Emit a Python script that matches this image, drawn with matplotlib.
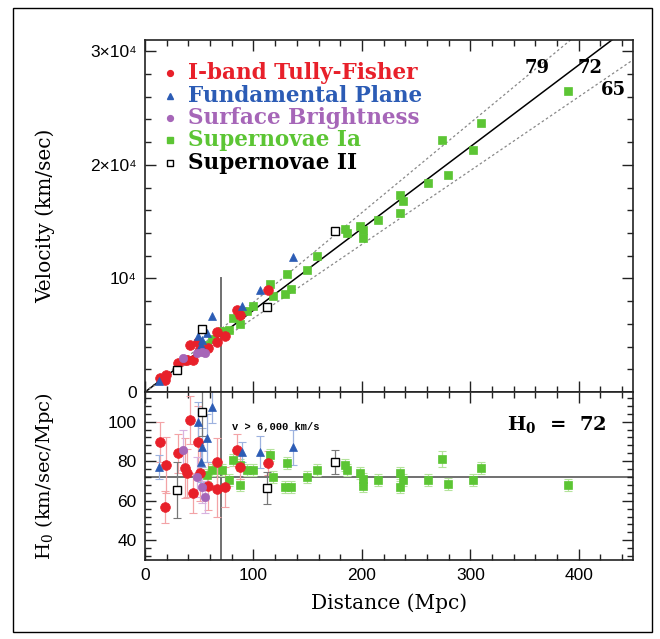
import matplotlib
matplotlib.use("Agg")
import matplotlib.pyplot as plt
from matplotlib.ticker import MultipleLocator, FixedLocator
from matplotlib.patches import Rectangle

# ---------------------------------------------------------------- DATA
# I-band Tully-Fisher
tf_dist = [13.8, 19.4, 18.4, 30.4, 36.9, 38.7, 41.5, 44.0, 49.0, 50.7, 58.0, 66.4, 66.4, 73.8, 84.8, 87.6, 113.4]
tf_vel = [1240, 1510, 1050, 2550, 2820, 2860, 4180, 2810, 4400, 3750, 3910, 5290, 4380, 4950, 7260, 6750, 8960]
tf_h0 = [89.7, 78.0, 56.8, 84.0, 76.5, 74.0, 100.8, 63.9, 89.7, 74.0, 67.4, 79.6, 65.9, 67.0, 85.6, 77.0, 79.0]
tf_err = [10, 14, 8, 10, 15, 12, 12, 10, 18, 14, 12, 12, 14, 10, 8, 6, 6]

# Fundamental Plane
fp_dist = [13.0, 49.0, 62.0, 57.0, 52.5, 51.6, 89.4, 106.0, 136.5]
fp_vel = [1000, 4900, 6660, 5230, 4570, 4110, 7560, 8970, 11880]
fp_h0 = [77.0, 100.0, 107.4, 91.7, 87.0, 79.6, 84.6, 84.6, 87.0]
fp_err = [6, 10, 8, 12, 10, 10, 5, 8, 9]

# Surface Brightness
sb_dist = [35.0, 52.5, 55.0, 48.0]
sb_vel = [3000, 3520, 3410, 3460]
sb_h0 = [85.6, 67.0, 62.0, 72.0]
sb_err = [10, 8, 8, 10]

# Supernovae Ia
sn1_dist = [57, 62, 71, 77, 81, 88, 88, 94, 100, 115, 118, 131, 129, 135, 149, 159,
            184, 186, 198, 201, 201, 215, 235, 238, 235, 261, 274, 279, 302, 310, 390]
sn1_vel = [4160, 4680, 5360, 5430, 6530, 6860, 5980, 7100, 7550, 9550, 8500, 10350, 8640, 9050, 10730, 12000,
           14350, 14040, 14650, 13550, 14270, 15160, 17390, 16780, 15750, 18400, 22220, 19080, 21290, 23720, 26480]
sn1_h0 = [73.0, 75.5, 75.5, 70.5, 80.6, 78.0, 68.0, 75.5, 75.5, 83.0, 72.0, 79.0, 67.0, 67.0, 72.0, 75.5,
          78.0, 75.5, 74.0, 67.4, 71.0, 70.5, 74.0, 70.5, 67.0, 70.5, 81.1, 68.4, 70.5, 76.5, 67.9]
sn1_err = [3, 3, 3, 3, 3, 3, 3, 3, 3, 3, 3, 3, 3, 3, 3, 3,
           3, 3, 3, 3, 3, 3, 3, 3, 3, 3, 4, 3, 3, 3, 3]

# Supernovae II
sn2_dist = [29.5, 52.5, 112.5, 175.0]
sn2_vel = [1940, 5510, 7470, 14180]
sn2_h0 = [65.4, 105.0, 66.4, 79.6]
sn2_err = [14, 12, 8, 6]

h0_values = [79, 72, 65]
h0_best = 72
cut_dist = 70

# ---------------------------------------------------------------- STYLE
mono = "Liberation Mono"
serif = "DejaVu Serif"
tick_font = ["Liberation Sans", "DejaVu Sans"]
plt.rcParams["mathtext.fontset"] = "dejavuserif"

series = [
    # dist, vel, h0, err, marker, color, errcolor, size, filled, label
    (sn1_dist, sn1_vel, sn1_h0, sn1_err, "s", "#5cc534", "#b5e39c", 5.2, True, "Supernovae Ia"),
    (tf_dist, tf_vel, tf_h0, tf_err, "o", "#e8202a", "#f3a3a6", 7.0, True, "I-band Tully-Fisher"),
    (fp_dist, fp_vel, fp_h0, fp_err, "^", "#2c5cb5", "#9db2df", 6.0, True, "Fundamental Plane"),
    (sb_dist, sb_vel, sb_h0, sb_err, "o", "#a666b8", "#d8b3e0", 6.0, True, "Surface Brightness"),
    (sn2_dist, sn2_vel, sn2_h0, sn2_err, "s", "black", "#777777", 5.8, False, "Supernovae II"),
]

fig = plt.figure(figsize=(6.6, 6.39), dpi=100)
ax_v = fig.add_axes([0.2197, 0.3865, 0.7394, 0.5509])
ax_h = fig.add_axes([0.2197, 0.1236, 0.7394, 0.2629])

# outer frame
fig.patches.append(Rectangle((13 / 660, 1 - 632 / 639), 639 / 660, 624 / 639,
                             transform=fig.transFigure, fill=False, ec="black", lw=1.0))

# ---------------------------------------------------------------- TOP PANEL
xs = [0, 450]
for h in h0_values:
    if h == h0_best:
        ax_v.plot(xs, [h * x for x in xs], color="black", lw=1.1, zorder=2)
    else:
        ax_v.plot(xs, [h * x for x in xs], color="#888888", lw=0.9, ls=(0, (2, 2)), zorder=2)
ax_v.plot([cut_dist, cut_dist], [0, 10000], color="#707070", lw=1.4, zorder=1)

for d, v, h, e, m, c, ec, ms, filled, lab in series:
    ax_v.plot(d, v, ls="none", marker=m, ms=ms, mfc=c if filled else "white",
              mec=c, mew=1.0 if not filled else 0.5, zorder=4)

ax_v.text(362, 28530, "79", fontsize=13, fontweight="bold", family=serif, ha="center", va="center")
ax_v.text(410, 28530, "72", fontsize=13, fontweight="bold", family=serif, ha="center", va="center")
ax_v.text(432, 26600, "65", fontsize=13, fontweight="bold", family=serif, ha="center", va="center")

# legend drawn as coloured text
legend_order = [1, 2, 3, 0, 4]
for i, k in enumerate(legend_order):
    d, v, h, e, m, c, ec, ms, filled, lab = series[k]
    y = 0.906 - i * 0.0638
    ax_v.plot([0.051], [y], transform=ax_v.transAxes, marker=m, ms=4.2, ls="none",
              mfc=c if filled else "white", mec=c, mew=1.0)
    ax_v.text(0.088, y, lab, transform=ax_v.transAxes, color=c, family=serif,
              fontweight="bold", fontsize=15.5, va="center", ha="left")

ax_v.set_xlim(0, 450)
ax_v.set_ylim(0, 31000)
ax_v.yaxis.set_major_locator(FixedLocator([0, 10000, 20000, 30000]))
ax_v.set_yticklabels(["0", "10⁴", "2×10⁴", "3×10⁴"])
ax_v.yaxis.set_minor_locator(MultipleLocator(2000))
ax_v.set_xticklabels([])

# ---------------------------------------------------------------- BOTTOM PANEL
ax_h.axhline(h0_best, color="#707070", lw=1.4, zorder=1)
ax_h.axvline(cut_dist, color="#707070", lw=1.4, zorder=1)

for d, v, h, e, m, c, ec, ms, filled, lab in series:
    ax_h.errorbar(d, h, yerr=e, fmt="none", ecolor=ec, elinewidth=0.9, capsize=3, capthick=0.8, zorder=2)
    ax_h.plot(d, h, ls="none", marker=m, ms=ms, mfc=c if filled else "white",
              mec=c, mew=1.0 if not filled else 0.5, zorder=4)

ax_h.text(80, 97.5, "v > 6,000 km/s", family=mono, fontweight="bold", fontsize=7.5, va="center")
ax_h.text(334, 98.5, r"H$_\mathbf{0}$  =  72", family=serif, fontweight="bold", fontsize=14, va="center")

ax_h.set_xlim(0, 450)
ax_h.set_ylim(30, 115)
ax_h.yaxis.set_major_locator(MultipleLocator(20))
ax_h.yaxis.set_minor_locator(MultipleLocator(4))
ax_h.set_xlabel("Distance (Mpc)", family=serif, fontsize=14.5, labelpad=7)

for ax in (ax_v, ax_h):
    ax.xaxis.set_major_locator(MultipleLocator(100))
    ax.xaxis.set_minor_locator(MultipleLocator(20))
    ax.tick_params(which="both", direction="in", top=True, right=True, width=1.0, color="#222222")
    ax.tick_params(which="major", length=8, labelsize=12.5, pad=6)
    ax.tick_params(which="minor", length=4)
    for lbl in ax.get_xticklabels() + ax.get_yticklabels():
        lbl.set_family(tick_font)
    for sp in ax.spines.values():
        sp.set_linewidth(1.2)
        sp.set_color("#222222")

fig.text(45 / 660, 1 - 216 / 639, "Velocity (km/sec)", rotation=90, family=serif,
         fontsize=14.5, ha="center", va="center")
fig.text(45 / 660, 1 - 476 / 639, r"H$_0$ (km/sec/Mpc)", rotation=90, family=serif,
         fontsize=14, ha="center", va="center")

fig.savefig("out.png", dpi=100)
